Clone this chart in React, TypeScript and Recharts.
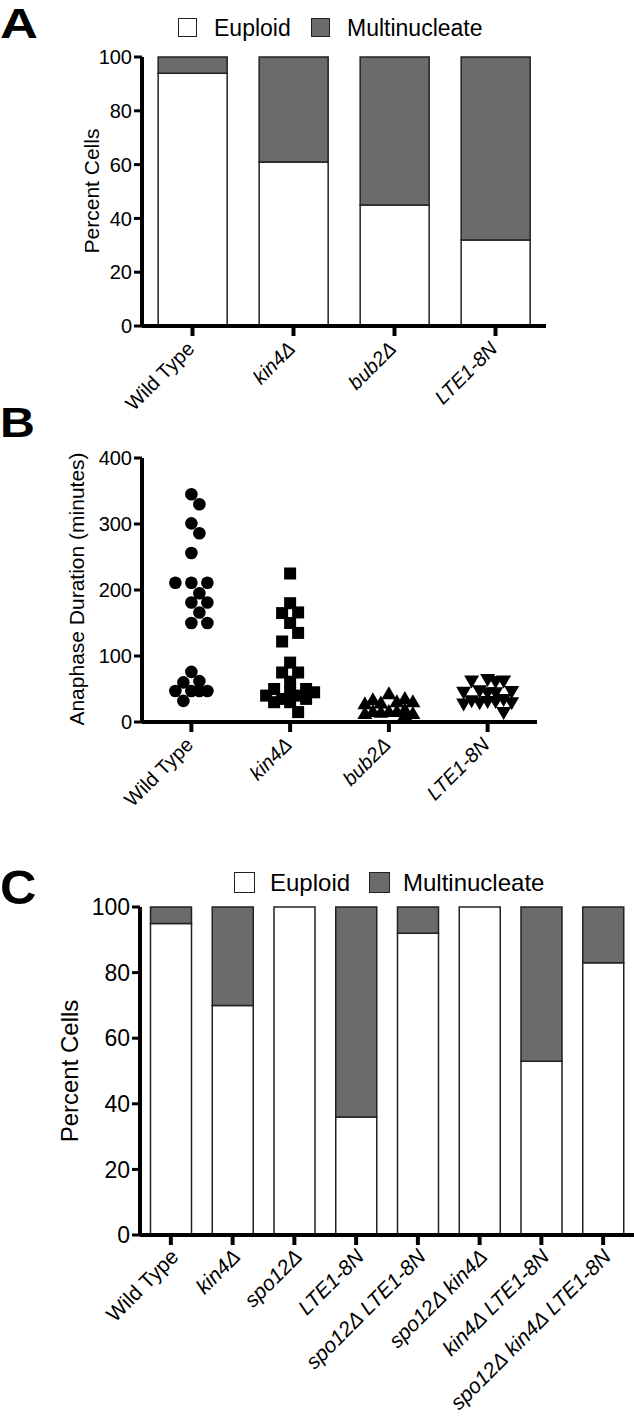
import React from 'react';
import { BarChart, Bar, XAxis, YAxis, ScatterChart, Scatter } from 'recharts';

const FONT = '"Liberation Sans", Arial, Helvetica, sans-serif';

// Panel A – nuclear phenotype
const strainsA = ['Wild Type', 'kin4Δ', 'bub2Δ', 'LTE1-8N'];
const euploidA = [94, 61, 45, 32];
const multiA = [6, 39, 55, 68];

// Panel B – anaphase duration (minutes), one value per cell
const wtDuration = [345, 330, 301, 286, 256, 211, 211, 211, 195, 181, 181, 166, 150, 150, 76, 62, 60, 47, 47, 47, 47, 32];
const kin4Duration = [225, 180, 166, 165, 150, 135, 122, 90, 75, 75, 61, 50, 50, 45, 45, 40, 40, 35, 35, 30, 30, 15];
const bub2Duration = [42, 35, 33, 30, 30, 28, 27, 18, 15, 15, 15, 14, 12, 12, 10];
const lteDuration = [65, 63, 63, 62, 48, 47, 46, 45, 45, 35, 33, 32, 32, 30, 30, 28, 15];
const durationTicks = [0, 100, 200, 300, 400];

// Panel C – double / triple mutants
const strainsC = [
  'Wild Type',
  'kin4Δ',
  'spo12Δ',
  'LTE1-8N',
  'spo12Δ LTE1-8N',
  'spo12Δ kin4Δ',
  'kin4Δ LTE1-8N',
  'spo12Δ kin4Δ LTE1-8N',
];
const euploidC = [95, 70, 100, 36, 92, 100, 53, 83];
const multiC = [5, 30, 0, 64, 8, 0, 47, 17];

const percentTicks = [0, 20, 40, 60, 80, 100];

const dataA = strainsA.map((s, i) => ({ strain: s, euploid: euploidA[i], multi: multiA[i] }));
const dataC = strainsC.map((s, i) => ({ strain: s, euploid: euploidC[i], multi: multiC[i] }));

// scatter plot geometry (used for spreading overlapping points sideways)
const B_PLOT_H = 264;
const B_BAND = 98.75;

function swarm(values: number[], cat: number, maxOff: number) {
  const pxPerUnit = B_PLOT_H / 400;
  const step = 8;
  const cands = [0];
  for (let k = 1; k * step <= maxOff; k++) cands.push(k * step, -k * step);
  const placed: { dx: number; py: number }[] = [];
  return values.map((v) => {
    const py = v * pxPerUnit;
    let best = 0;
    let bestD = -1;
    for (const c of cands) {
      const d = placed.reduce((m, p) => Math.min(m, Math.hypot(p.dx - c, p.py - py)), Infinity);
      if (d >= 12) {
        best = c;
        break;
      }
      if (d > bestD + 0.5) {
        bestD = d;
        best = c;
      }
    }
    placed.push({ dx: best, py });
    return { x: cat + best / B_BAND, y: v };
  });
}

const axisLine = { stroke: '#000', strokeWidth: 4 };
const tickLine = { stroke: '#000', strokeWidth: 3 };

function SlantTick(props: any) {
  const { x, y, payload, names, fontSize, dx = 6, dy = 6 } = props;
  const name = typeof payload.value === 'number' ? names[payload.value] : payload.value;
  if (name === undefined) return null;
  const italic = name !== 'Wild Type';
  return (
    <g transform={`translate(${x + dx},${y + dy})`}>
      <text
        x={0}
        y={0}
        transform="rotate(-45)"
        textAnchor="end"
        fontStyle={italic ? 'italic' : 'normal'}
        fontSize={fontSize}
        fontFamily={FONT}
        fill="#000"
      >
        {name}
      </text>
    </g>
  );
}

function Marker(props: any) {
  const { cx, cy, kind } = props;
  if (kind === 'circle') return <circle cx={cx} cy={cy} r={6.3} fill="#000" />;
  if (kind === 'square') return <rect x={cx - 6} y={cy - 6} width={12} height={12} fill="#000" />;
  if (kind === 'up')
    return <polygon points={`${cx},${cy - 8} ${cx + 7.5},${cy + 5} ${cx - 7.5},${cy + 5}`} fill="#000" />;
  return <polygon points={`${cx},${cy + 8} ${cx + 7.5},${cy - 5} ${cx - 7.5},${cy - 5}`} fill="#000" />;
}

function PanelLetter({ text, top, size, stretch }: { text: string; top: number; size: number; stretch: number }) {
  return (
    <div
      style={{
        position: 'absolute',
        left: 0,
        top,
        fontSize: size,
        lineHeight: 1,
        fontWeight: 'bold',
        fontFamily: FONT,
        transform: `scaleX(${stretch})`,
        transformOrigin: 'left top',
      }}
    >
      {text}
    </div>
  );
}

function VLabel({ text, cx, cy, size }: { text: string; cx: number; cy: number; size: number }) {
  return (
    <div
      style={{
        position: 'absolute',
        left: cx,
        top: cy,
        transform: 'translate(-50%, -50%) rotate(-90deg)',
        whiteSpace: 'nowrap',
        fontSize: size,
        lineHeight: 1,
        fontFamily: FONT,
      }}
    >
      {text}
    </div>
  );
}

function LegendItem({ x, y, box, label, fill, size, textX }: any) {
  return (
    <>
      <div
        style={{
          position: 'absolute',
          left: x,
          top: y - box / 2,
          width: box - 3,
          height: box - 3,
          border: '1.5px solid #222',
          background: fill,
        }}
      />
      <div
        style={{
          position: 'absolute',
          left: textX,
          top: y - size / 2,
          fontSize: size,
          lineHeight: 1,
          fontFamily: FONT,
          whiteSpace: 'nowrap',
        }}
      >
        {label}
      </div>
    </>
  );
}

const GREY = '#6b6b6b';

export default function App() {
  const tickStyleA = { fill: '#000', fontSize: 20, fontFamily: FONT };
  const tickStyleC = { fill: '#000', fontSize: 23, fontFamily: FONT };

  return (
    <div style={{ position: 'absolute', left: 0, top: 0, width: 634, height: 1419, background: '#fff' }}>
      {/* Panel A */}
      <PanelLetter text="A" top={2.5} size={42} stretch={1.25} />
      <LegendItem x={178} y={28} box={20} label="Euploid" fill="#fff" size={23} textX={214} />
      <LegendItem x={311} y={28} box={20} label="Multinucleate" fill={GREY} size={23} textX={347} />
      <VLabel text="Percent Cells" cx={91} cy={191} size={21} />
      <div style={{ position: 'absolute', left: 0, top: 0 }}>
        <BarChart width={634} height={420} data={dataA} margin={{ top: 57, right: 88, bottom: 0, left: 82 }} barCategoryGap="16%">
          <XAxis
            dataKey="strain"
            height={94}
            axisLine={axisLine}
            tickLine={{ stroke: '#000', strokeWidth: 4 }}
            tickSize={10}
            interval={0}
            tick={<SlantTick names={strainsA} fontSize={20} dx={3} dy={12} />}
          />
          <YAxis
            width={60}
            domain={[0, 100]}
            ticks={percentTicks}
            interval={0}
            axisLine={axisLine}
            tickLine={tickLine}
            tickSize={8}
            tick={tickStyleA}
          />
          <Bar dataKey="euploid" stackId="a" fill="#fff" stroke="#222" strokeWidth={1.5} isAnimationActive={false} />
          <Bar dataKey="multi" stackId="a" fill={GREY} stroke="#222" strokeWidth={1.5} isAnimationActive={false} />
        </BarChart>
      </div>

      {/* Panel B */}
      <PanelLetter text="B" top={402} size={42} stretch={1.15} />
      <VLabel text="Anaphase Duration (minutes)" cx={76} cy={589} size={21} />
      <div style={{ position: 'absolute', left: 0, top: 420 }}>
        <ScatterChart width={634} height={420} margin={{ top: 38, right: 97, bottom: 0, left: 82 }}>
          <XAxis
            type="number"
            dataKey="x"
            domain={[-0.5, 3.5]}
            ticks={[0, 1, 2, 3]}
            interval={0}
            height={118}
            axisLine={axisLine}
            tickLine={{ stroke: '#000', strokeWidth: 4 }}
            tickSize={10}
            tick={<SlantTick names={strainsA} fontSize={20} dx={3} dy={12} />}
          />
          <YAxis
            type="number"
            dataKey="y"
            width={60}
            domain={[0, 400]}
            ticks={durationTicks}
            interval={0}
            axisLine={axisLine}
            tickLine={tickLine}
            tickSize={8}
            tick={tickStyleA}
          />
          <Scatter data={swarm(wtDuration, 0, 16)} shape={(p: any) => <Marker {...p} kind="circle" />} isAnimationActive={false} />
          <Scatter data={swarm(kin4Duration, 1, 24)} shape={(p: any) => <Marker {...p} kind="square" />} isAnimationActive={false} />
          <Scatter data={swarm(bub2Duration, 2, 24)} shape={(p: any) => <Marker {...p} kind="up" />} isAnimationActive={false} />
          <Scatter data={swarm(lteDuration, 3, 24)} shape={(p: any) => <Marker {...p} kind="down" />} isAnimationActive={false} />
        </ScatterChart>
      </div>

      {/* Panel C */}
      <PanelLetter text="C" top={864} size={48} stretch={1.05} />
      <LegendItem x={234} y={883} box={22} label="Euploid" fill="#fff" size={24} textX={270} />
      <LegendItem x={369} y={883} box={22} label="Multinucleate" fill={GREY} size={24} textX={403} />
      <VLabel text="Percent Cells" cx={70} cy={1071} size={24} />
      <div style={{ position: 'absolute', left: 0, top: 840 }}>
        <BarChart width={634} height={579} data={dataC} margin={{ top: 67, right: 0, bottom: 0, left: 80 }} barCategoryGap="17%">
          <XAxis
            dataKey="strain"
            height={184}
            axisLine={axisLine}
            tickLine={{ stroke: '#000', strokeWidth: 4 }}
            tickSize={10}
            interval={0}
            tick={<SlantTick names={strainsC} fontSize={21} dx={9} dy={11} />}
          />
          <YAxis
            width={60}
            domain={[0, 100]}
            ticks={percentTicks}
            interval={0}
            axisLine={axisLine}
            tickLine={tickLine}
            tickSize={8}
            tick={tickStyleC}
          />
          <Bar dataKey="euploid" stackId="a" fill="#fff" stroke="#222" strokeWidth={1.5} isAnimationActive={false} />
          <Bar dataKey="multi" stackId="a" fill={GREY} stroke="#222" strokeWidth={1.5} isAnimationActive={false} />
        </BarChart>
      </div>
    </div>
  );
}
